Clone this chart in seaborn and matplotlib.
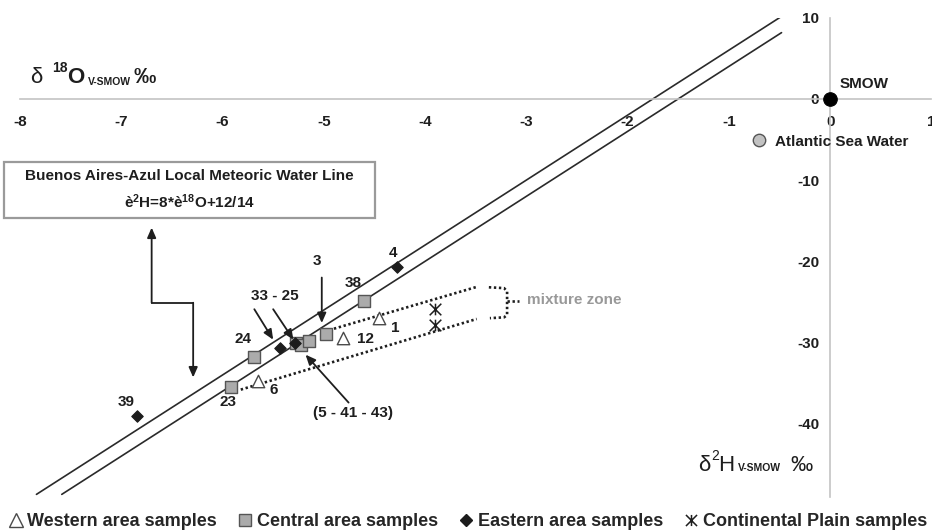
import matplotlib
matplotlib.use("Agg")
import matplotlib.pyplot as plt
from matplotlib.path import Path
from matplotlib.lines import Line2D
from matplotlib.patches import Rectangle
import numpy as np
import pandas as pd
import seaborn as sns

# ---- isotope data (delta 18O, delta 2H, per mil V-SMOW) ----
western_o18 = [-4.45, -4.81, -5.65]
western_h2 = [-27.0, -29.5, -34.8]
western_ids = ["1", "12", "6"]

central_o18 = [-4.60, -4.98, -5.27, -5.23, -5.15, -5.69, -5.92]
central_h2 = [-24.9, -28.9, -30.0, -30.3, -29.8, -31.8, -35.5]
central_ids = ["38", "3", "5", "41", "43", "24", "23"]

eastern_o18 = [-4.28, -5.43, -5.28, -6.84]
eastern_h2 = [-20.7, -30.7, -30.0, -39.0]
eastern_ids = ["4", "33", "25", "39"]

continental_o18 = [-3.90, -3.90]
continental_h2 = [-25.9, -27.9]

smow_o18, smow_h2 = [0.0], [0.0]
atlantic_o18, atlantic_h2 = [-0.70], [-5.0]

# Local meteoric water line: d2H = 8 * d18O + 12 / 14
lmwl_slope = 8
lmwl_intercepts = [14, 12]
lmwl_h2_range = [-48.7, 10.0]

# mixture-zone envelope
mix_upper_o18 = [-4.90, -3.49]
mix_upper_h2 = [-28.3, -23.15]
mix_lower_o18 = [-5.82, -3.49]
mix_lower_h2 = [-35.8, -27.1]
bracket_o18 = [-3.37, -3.22, -3.19, -3.19, -3.22, -3.36]
bracket_h2 = [-23.2, -23.3, -23.7, -26.6, -26.9, -27.0]
bracket_tick_o18 = [-3.19, -3.07]
bracket_tick_h2 = [-24.9, -24.9]

x_ticks = list(range(-8, 2))
y_ticks = [10, 0, -10, -20, -30, -40]

# ---- style ----
sns.set_theme(style="white")
plt.rcParams["font.family"] = ["Liberation Sans", "DejaVu Sans"]
plt.rcParams["mathtext.fontset"] = "custom"
plt.rcParams["mathtext.rm"] = "Liberation Sans"
plt.rcParams["mathtext.bf"] = "Liberation Sans:bold"
plt.rcParams["mathtext.it"] = "Liberation Sans:italic"

INK = "#1e1e1e"
AXIS_GREY = "#c4c4c4"
SQ_FILL = "#ababab"
EDGE = "#555555"

W, H = 932, 531
fig = plt.figure(figsize=(W / 100, H / 100), dpi=100)
ax = fig.add_axes([20 / W, 1 - 496.8 / H, 911.4 / W, (496.8 - 17.7) / H])

# meteoric water lines
lines = []
for k, b in enumerate(lmwl_intercepts):
    hs = np.array(lmwl_h2_range)
    os_ = (hs - b) / lmwl_slope
    os_[1] = -0.48
    hs = lmwl_slope * os_ + b
    lines.append(pd.DataFrame({"o18": os_, "h2": hs, "line": k}))
lmwl = pd.concat(lines, ignore_index=True)
sns.lineplot(data=lmwl, x="o18", y="h2", units="line", estimator=None, sort=False,
             color="#2a2a2a", lw=1.2, ax=ax, legend=False, zorder=2)

# mixture zone (dotted)
dot_kw = dict(color=INK, lw=1.9, linestyle=(0, (0.9, 1.0)), zorder=2)
ax.plot(mix_upper_o18, mix_upper_h2, **dot_kw)
ax.plot(mix_lower_o18, mix_lower_h2, **dot_kw)
ax.plot(bracket_o18, bracket_h2, **dot_kw)
ax.plot(bracket_tick_o18, bracket_tick_h2, **dot_kw)
ax.text(-2.99, -24.75, "mixture zone", color="#999999", fontsize=11, fontweight="bold",
        ha="left", va="center")

# continental plain marker: X with a vertical bar
star_path = Path([(-1, -1), (1, 1), (-1, 1), (1, -1), (0, -1), (0, 1)],
                 [Path.MOVETO, Path.LINETO, Path.MOVETO, Path.LINETO, Path.MOVETO, Path.LINETO])

sns.scatterplot(x=central_o18, y=central_h2, marker="s", s=70, color=SQ_FILL,
                edgecolor=EDGE, linewidth=1.0, ax=ax, zorder=4)
sns.scatterplot(x=western_o18, y=western_h2, marker="^", s=80, color="white",
                edgecolor="#4a4a4a", linewidth=1.0, ax=ax, zorder=4)
sns.scatterplot(x=eastern_o18, y=eastern_h2, marker="D", s=34, color="#1c1c1c",
                edgecolor="#1c1c1c", linewidth=0.8, ax=ax, zorder=5)
sns.scatterplot(x=continental_o18, y=continental_h2, marker=star_path, s=70, color=INK,
                edgecolor=INK, linewidth=1.1, ax=ax, zorder=5)
sns.scatterplot(x=smow_o18, y=smow_h2, marker="o", s=95, color="black",
                edgecolor="black", ax=ax, zorder=5)
sns.scatterplot(x=atlantic_o18, y=atlantic_h2, marker="o", s=80, color="#c2c2c2",
                edgecolor=EDGE, linewidth=1.0, ax=ax, zorder=5)

# axes crossing at the origin
ax.set_xlim(-8, 1)
ax.set_ylim(-49, 10)
for side in ("top", "right"):
    ax.spines[side].set_visible(False)
for side in ("left", "bottom"):
    ax.spines[side].set_position(("data", 0))
    ax.spines[side].set_color(AXIS_GREY)
    ax.spines[side].set_linewidth(1.2)
ax.set_xticks(x_ticks)
ax.set_yticks(y_ticks)
ax.set_xticklabels([str(t) for t in x_ticks], fontsize=11, fontweight="bold", color=INK)
ax.set_yticklabels([str(t) for t in y_ticks], fontsize=11, fontweight="bold", color=INK)
ax.tick_params(axis="both", direction="inout", length=5, width=1, color=AXIS_GREY)
ax.tick_params(axis="x", pad=9)
ax.tick_params(axis="y", pad=5.5)
ax.set_xlabel("")
ax.set_ylabel("")

# sample numbers (offsets in pixels from each symbol)
label_offsets = {"1": (15.7, -10), "12": (22, -1), "6": (15.6, -8.3),
                 "38": (-11, 18.4), "24": (-10.7, 17.7), "23": (-3, -14.4),
                 "4": (-3.4, 14), "39": (-11.3, 14)}
for xs, ys, ids in ((western_o18, western_h2, western_ids),
                    (central_o18, central_h2, central_ids),
                    (eastern_o18, eastern_h2, eastern_ids)):
    for x, y, s in zip(xs, ys, ids):
        if s in label_offsets:
            ax.annotate(s, (x, y), xytext=label_offsets[s], textcoords="offset pixels",
                        ha="center", va="center", fontsize=11, fontweight="bold", color=INK)

ax.annotate("SMOW", (smow_o18[0], smow_h2[0]), xytext=(9, 10.6), textcoords="offset pixels",
            ha="left", va="baseline", fontsize=11, fontweight="bold", color=INK)
ax.annotate("Atlantic Sea Water", (atlantic_o18[0], atlantic_h2[0]), xytext=(15.7, -6.7),
            textcoords="offset pixels", ha="left", va="baseline", fontsize=11,
            fontweight="bold", color=INK)

# pointer arrows
arrow_kw = dict(arrowstyle="-|>,head_length=0.5,head_width=0.22", color=INK, lw=1.3,
                shrinkA=0, shrinkB=0, mutation_scale=12)


def pointer(tail, tip):
    ax.annotate("", xy=tip, xytext=tail, arrowprops=arrow_kw, zorder=6)


ax.text(-5.07, -20.0, "3", ha="center", va="center", fontsize=11, fontweight="bold", color=INK)
pointer((-5.02, -22.0), (-5.02, -27.6))
ax.text(-5.48, -24.3, "33 - 25", ha="center", va="center", fontsize=11, fontweight="bold", color=INK)
pointer((-5.686, -25.9), (-5.50, -29.65))
pointer((-5.50, -25.9), (-5.30, -29.65))
ax.text(-4.71, -38.7, "(5 - 41 - 43)", ha="center", va="center", fontsize=11, fontweight="bold", color=INK)
pointer((-4.755, -37.4), (-5.18, -31.5))

# elbow arrow linking the line caption to the meteoric lines
pointer((-6.70, -25.1), (-6.70, -15.85))
ax.plot([-6.70, -6.29], [-25.1, -25.1], color=INK, lw=1.3, solid_capstyle="projecting")
pointer((-6.29, -25.1), (-6.29, -34.3))

# caption box
fig.add_artist(Rectangle((4 / W, 1 - 218 / H), 371 / W, 56 / H, transform=fig.transFigure,
                         facecolor="white", edgecolor="#9a9a9a", lw=1.6, zorder=3))
fig.text(189.5 / W, 1 - 176 / H, "Buenos Aires-Azul Local Meteoric Water Line",
         ha="center", va="center", fontsize=11, fontweight="bold", color=INK, zorder=4)
fig.text(189.5 / W, 1 - 202 / H, r"è$^{\mathbf{2}}$H=8*è$^{\mathbf{18}}$O+12/14",
         ha="center", va="center", fontsize=11, fontweight="bold", color=INK, zorder=4)


# axis titles built from pieces (figure pixels, baseline aligned)
def pieces(parts):
    for txt, px, py, size, weight in parts:
        fig.text(px / W, 1 - py / H, txt, ha="left", va="baseline", fontsize=size,
                 fontweight=weight, color=INK)


pieces([("δ", 30, 83, 16, "normal"),
        ("18", 52, 72, 10, "bold"),
        ("O", 67, 83, 16, "bold"),
        ("V-SMOW", 88, 85, 7.5, "bold"),
        ("‰", 134, 83, 16, "bold")])
pieces([("δ", 698, 471, 16, "normal"),
        ("2", 711, 460, 10, "normal"),
        ("H", 718, 471, 16, "normal"),
        ("V-SMOW", 738, 471, 7.5, "bold"),
        ("‰", 790, 471, 16, "normal")])

# legend
handles = [
    Line2D([], [], ls="none", marker="^", ms=10, mfc="white", mec="#4a4a4a", mew=1.0),
    Line2D([], [], ls="none", marker="s", ms=9, mfc=SQ_FILL, mec=EDGE, mew=1.0),
    Line2D([], [], ls="none", marker="D", ms=6, mfc="#1c1c1c", mec="#1c1c1c"),
    Line2D([], [], ls="none", marker=star_path, ms=8, mfc=INK, mec=INK, mew=1.1),
]
labels = ["Western area samples", "Central area samples", "Eastern area samples",
          "Continental Plain samples"]
fig.legend(handles, labels, loc="center", bbox_to_anchor=(468 / W, 1 - 521.7 / H), ncol=4,
           frameon=False, handlelength=0.7, handletextpad=0.3, columnspacing=1.2,
           borderpad=0, prop={"size": 13, "weight": "bold"})

fig.savefig("out.png", dpi=100)
